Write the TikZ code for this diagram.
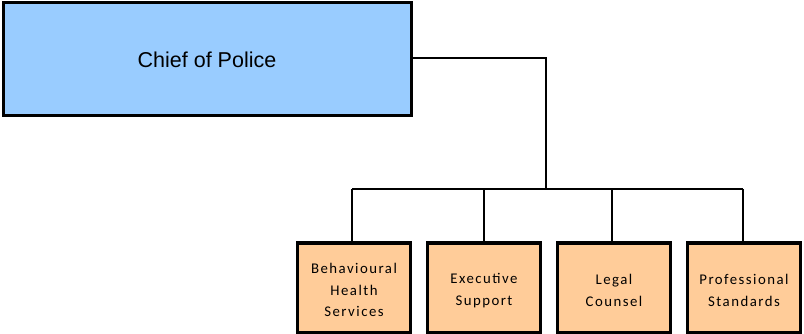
\documentclass[tikz,border=0pt]{standalone}
\usepackage{fontspec}
\setmainfont{Liberation Sans}
\newfontfamily\unitfont[LetterSpace=10]{Carlito}
\definecolor{chiefblue}{HTML}{99CCFF}
\definecolor{unitorange}{HTML}{FFCC99}
\begin{document}
\begin{tikzpicture}[x=1pt,y=-1pt,
  chiefbox/.style={draw=black,line width=3pt,fill=chiefblue,minimum width=408pt,minimum height=113pt,inner sep=0pt,font=\fontsize{21.5}{25}\selectfont},
  unitbox/.style={draw=black,line width=3pt,fill=unitorange,minimum width=113pt,minimum height=89pt,inner sep=0pt,align=center,font=\unitfont\fontsize{14.8}{21.5}\selectfont},
  unittext/.style={align=center,font=\unitfont\fontsize{14.8}{21.5}\selectfont,inner sep=0pt},
  link/.style={draw=black,line width=2pt}]
  \useasboundingbox (0,0) rectangle (804,334);
  \node[chiefbox] (chief) at (207,59.5) {Chief of Police};
  % unit boxes along the bottom, their labels set slightly below centre
  \node[unitbox] (u1) at (354,287.5) {};
  \node[unitbox] (u2) at (484,287.5) {};
  \node[unitbox] (u3) at (614,287.5) {};
  \node[unitbox] (u4) at (744,287.5) {};
  \node[unittext] (t1) at ([yshift=-2.5pt]u1.center) {Behavioural\\Health\\Services};
  \node[unittext] (t2) at ([yshift=-3pt]u2.center) {Executive\\Support};
  \node[unittext] (t3) at ([yshift=-3pt]u3.center) {Legal\\Counsel};
  \node[unittext] (t4) at ([yshift=-3pt]u4.center) {Professional\\Standards};
  \coordinate (bend) at (546,58);
  \coordinate (hub) at (546,189);
  \draw[link] (chief.east |- bend) -- (bend) -- (hub);
  \draw[link] (352,189) -- (743,189);
  \draw[link] (352,189) -- (352,243);
  \draw[link] (u2.north |- hub) -- (u2.north);
  \draw[link] (612,189) -- (612,243);
  \draw[link] (743,189) -- (743,243);
\end{tikzpicture}
\end{document}
